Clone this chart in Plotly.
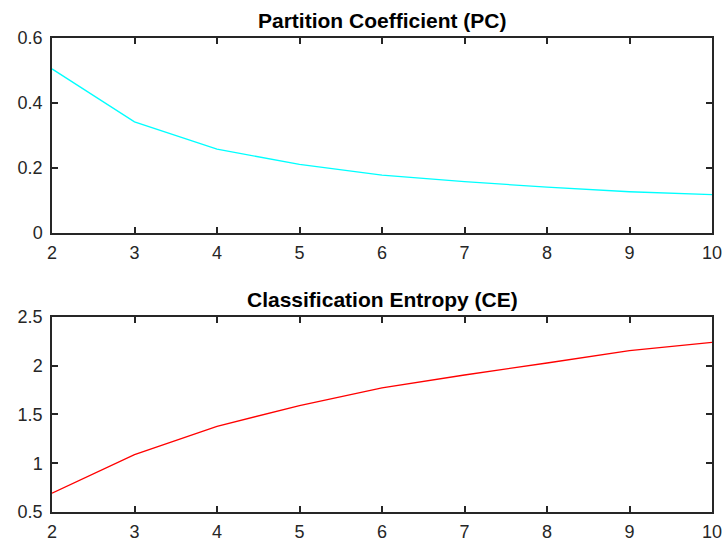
import plotly.graph_objects as go
from plotly.subplots import make_subplots

clusters = [2, 3, 4, 5, 6, 7, 8, 9, 10]
pc_values = [0.505, 0.342, 0.258, 0.211, 0.178, 0.158, 0.141, 0.127, 0.118]
ce_values = [0.693, 1.088, 1.379, 1.591, 1.772, 1.905, 2.028, 2.155, 2.240]
pc_title = "Partition Coefficient (PC)"
ce_title = "Classification Entropy (CE)"

fig = make_subplots(rows=2, cols=1, vertical_spacing=0.1772)
fig.add_trace(go.Scatter(x=clusters, y=pc_values, mode="lines",
                         line=dict(color="#00FFFF", width=1.3)), row=1, col=1)
fig.add_trace(go.Scatter(x=clusters, y=ce_values, mode="lines",
                         line=dict(color="#FF0000", width=1.3)), row=2, col=1)

axis_common = dict(showline=True, linecolor="#262626", linewidth=1.5, mirror="ticks",
                   ticks="inside", ticklen=6, tickwidth=1.5, tickcolor="#262626",
                   showgrid=False, zeroline=False, automargin=False,
                   tickfont=dict(family="Liberation Sans, Arial", size=18, color="#262626"))

fig.update_xaxes(**axis_common, range=[2, 10], tickvals=clusters, ticklabelstandoff=3)
fig.update_yaxes(**axis_common, ticklabelstandoff=4)
fig.update_yaxes(range=[0, 0.6], tickvals=[0, 0.2, 0.4, 0.6],
                 ticktext=["0", "0.2", "0.4", "0.6"], row=1, col=1)
fig.update_yaxes(range=[0.5, 2.5], tickvals=[0.5, 1, 1.5, 2, 2.5],
                 ticktext=["0.5", "1", "1.5", "2", "2.5"], row=2, col=1)
fig.update_layout(
    yaxis=dict(domain=[0.5886, 1.0]),
    yaxis2=dict(domain=[0.0, 0.4114]),
)

fig.add_annotation(text="<b>" + pc_title + "</b>", xref="paper", yref="paper",
                   x=0.5, y=1.0, yshift=4, xanchor="center", yanchor="bottom", showarrow=False,
                   font=dict(family="Liberation Sans, Arial", size=21, color="#000000"))
fig.add_annotation(text="<b>" + ce_title + "</b>", xref="paper", yref="paper",
                   x=0.5, y=0.4114, yshift=4, xanchor="center", yanchor="bottom", showarrow=False,
                   font=dict(family="Liberation Sans, Arial", size=21, color="#000000"))

fig.update_layout(width=723, height=541, showlegend=False,
                  margin=dict(l=52, r=11, t=38, b=29),
                  paper_bgcolor="white", plot_bgcolor="white")

fig.write_html("out.html")
